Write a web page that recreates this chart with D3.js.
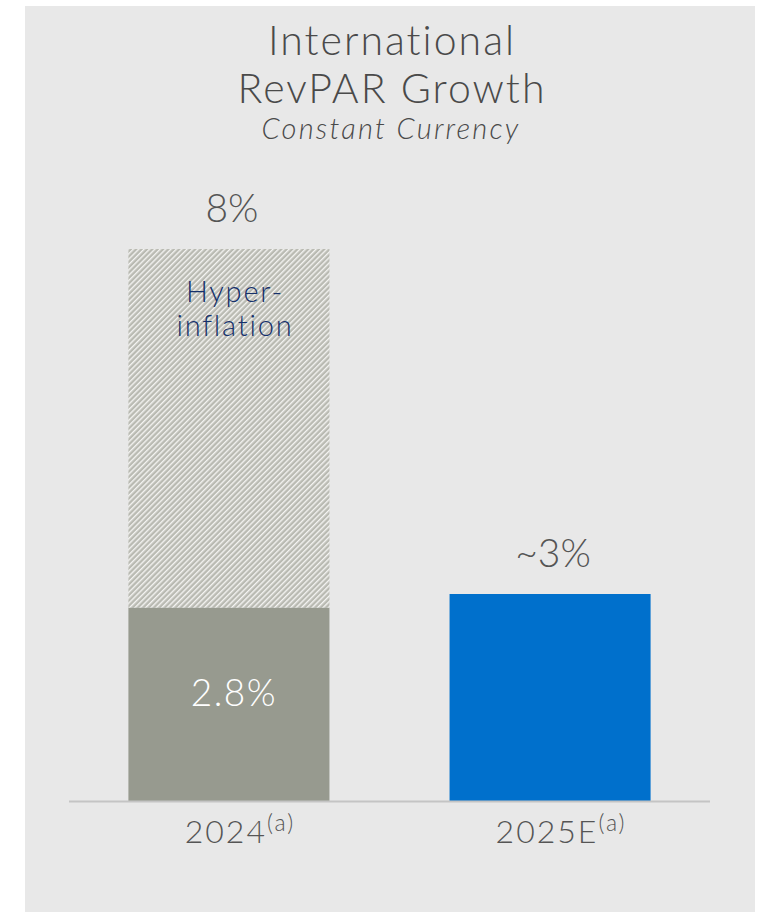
<!DOCTYPE html>
<html>
<head>
<meta charset="utf-8">
<script src="https://cdn.jsdelivr.net/npm/d3@7/dist/d3.min.js"></script>
<style>
  html, body { margin: 0; padding: 0; background: #ffffff; }
  svg { display: block; }
  text { font-family: Lato, "Noto Sans", sans-serif; font-variant-ligatures: none; font-weight: 300; }
</style>
</head>
<body>
<div id="chart"></div>
<script>
// Chart data
const categories = ["2024", "2025E"];
const footnotes = ["(a)", "(a)"];
const baseValues = [2.8, 3];          // solid portion of each bar
const totalValues = [8, 3];           // bar total including hyperinflation
const valueLabels = ["8%", "~3%"];
const innerLabels = ["2.8%", null];
const barColors = ["#979a8f", "#0070cc"];
const titleLines = ["International", "RevPAR Growth"];
const subtitle = "Constant Currency";
const hatchLabel = ["Hyper-", "inflation"];

const W = 759, H = 912;
const svg = d3.select("#chart").append("svg")
  .attr("width", W).attr("height", H);

// Panel background
svg.append("rect")
  .attr("x", 25).attr("y", 6)
  .attr("width", 730).attr("height", H - 6)
  .attr("fill", "#e8e8e8");

// Diagonal hatch for the hyperinflation portion
const defs = svg.append("defs");
const pat = defs.append("pattern")
  .attr("id", "hatch")
  .attr("patternUnits", "userSpaceOnUse")
  .attr("width", 3.8).attr("height", 3.8)
  .attr("patternTransform", "rotate(45)");
pat.append("rect").attr("width", 3.8).attr("height", 3.8).attr("fill", "#b9bab2");
pat.append("rect").attr("width", 1.4).attr("height", 3.8).attr("fill", "#f4f4f2");

// Scales
const x = d3.scaleBand()
  .domain(categories)
  .range([69, 710])
  .paddingInner(0.374)
  .paddingOuter(0.185);

const baseline = 801;
const y = d3.scaleLinear().domain([0, 8]).range([baseline, 249]);

// Title
const title = svg.append("g").attr("fill", "#4a4a4a").attr("text-anchor", "middle");
title.selectAll("text.t")
  .data(titleLines)
  .join("text")
  .attr("class", "t")
  .attr("x", 392)
  .attr("y", (d, i) => 55 + i * 48)
  .attr("font-size", 41)
  .attr("letter-spacing", 2)
  .text(d => d);
title.append("text")
  .attr("x", 391).attr("y", 139)
  .attr("font-size", 29)
  .attr("font-style", "italic")
  .attr("letter-spacing", 2.2)
  .text(subtitle);

const rows = categories.map((c, i) => ({
  cat: c, base: baseValues[i], total: totalValues[i],
  color: barColors[i], label: valueLabels[i], inner: innerLabels[i], note: footnotes[i]
}));

// Hatched hyperinflation segment (above the solid portion)
svg.selectAll("rect.hatch")
  .data(rows.filter(d => d.total > d.base))
  .join("rect")
  .attr("class", "hatch")
  .attr("x", d => x(d.cat))
  .attr("width", x.bandwidth())
  .attr("y", d => y(d.total))
  .attr("height", d => y(d.base) - y(d.total))
  .attr("fill", "url(#hatch)");

// Solid bars
svg.selectAll("rect.bar")
  .data(rows)
  .join("rect")
  .attr("class", "bar")
  .attr("x", d => x(d.cat))
  .attr("width", x.bandwidth())
  .attr("y", d => y(d.base))
  .attr("height", d => y(0) - y(d.base))
  .attr("fill", d => d.color);

// Value labels above bars
svg.selectAll("text.val")
  .data(rows)
  .join("text")
  .attr("class", "val")
  .attr("x", d => x(d.cat) + x.bandwidth() / 2 + 3)
  .attr("y", d => y(d.total) - 27)
  .attr("text-anchor", "middle")
  .attr("font-size", 39)
  .attr("fill", "#555555")
  .text(d => d.label);

// Label inside the solid segment
svg.selectAll("text.inner")
  .data(rows.filter(d => d.inner))
  .join("text")
  .attr("class", "inner")
  .attr("x", d => x(d.cat) + x.bandwidth() / 2 + 5)
  .attr("y", d => (y(d.base) + y(0)) / 2 + 2)
  .attr("text-anchor", "middle")
  .attr("font-size", 37)
  .attr("letter-spacing", 1.5)
  .attr("fill", "#ffffff")
  .text(d => d.inner);

// Hyperinflation label
const hx = x("2024") + x.bandwidth() / 2 + 6;
svg.append("text")
  .attr("text-anchor", "middle")
  .attr("font-size", 29)
  .attr("font-weight", 400)
  .attr("letter-spacing", 1.8)
  .attr("fill", "#14306b")
  .selectAll("tspan")
  .data(hatchLabel)
  .join("tspan")
  .attr("x", hx)
  .attr("y", (d, i) => 302 + i * 34)
  .text(d => d);

// Axis baseline
svg.append("line")
  .attr("x1", 69).attr("x2", 710)
  .attr("y1", baseline + 0.5).attr("y2", baseline + 0.5)
  .attr("stroke", "#c4c4c4")
  .attr("stroke-width", 2);

// Category labels with superscript footnote marker
const cl = svg.selectAll("text.cat")
  .data(rows)
  .join("text")
  .attr("class", "cat")
  .attr("x", d => x(d.cat) + x.bandwidth() / 2 + 11)
  .attr("y", 843)
  .attr("text-anchor", "middle")
  .attr("fill", "#555555");
cl.append("tspan").attr("font-size", 32).attr("letter-spacing", 2).text(d => d.cat);
cl.append("tspan").attr("font-size", 23).attr("letter-spacing", 2).attr("dy", -12).text(d => d.note);
</script>
</body>
</html>
